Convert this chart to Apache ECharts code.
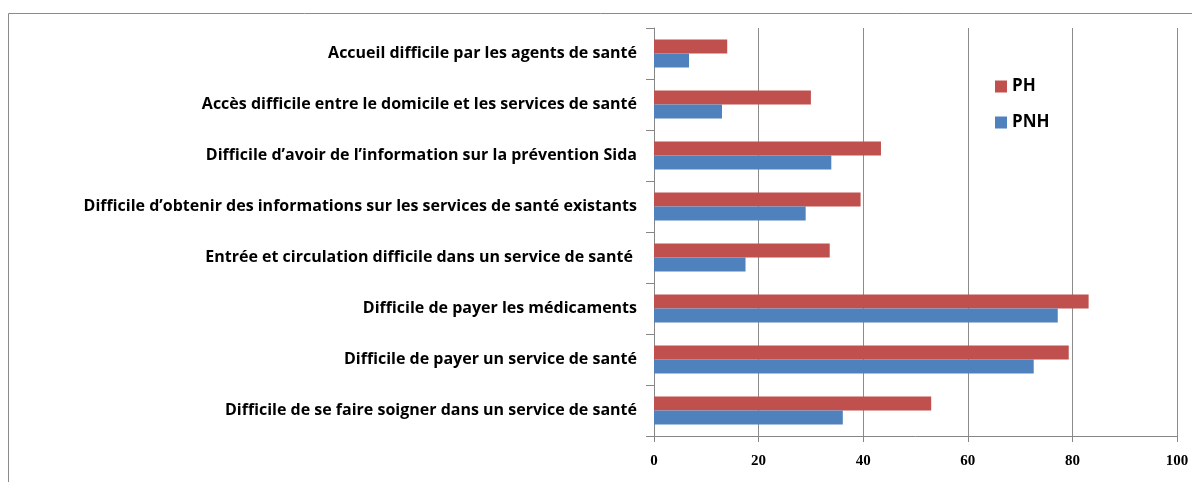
<!DOCTYPE html>
<html>
<head>
<meta charset="utf-8">
<script src="https://cdn.jsdelivr.net/npm/echarts@6/dist/echarts.min.js"></script>
<style>
html, body { margin: 0; padding: 0; background: #fff; }
#chart { width: 1192px; height: 482px; }
</style>
</head>
<body>
<div id="chart"></div>
<script>
const categories = [
	'Accueil difficile par les agents de santé',
	'Accès difficile entre le domicile et les services de santé',
	'Difficile d\u2019avoir de l\u2019information sur la prévention Sida',
	'Difficile d\u2019obtenir des informations sur les services de santé existants',
	'Entrée et circulation difficile dans un service de santé ',
	'Difficile de payer les médicaments',
	'Difficile de payer un service de santé',
	'Difficile de se faire soigner dans un service de santé'
];
const phValues = [14, 30, 43.4, 39.5, 33.6, 83.1, 79.3, 53];
const pnhValues = [6.7, 13, 33.9, 29, 17.5, 77.2, 72.6, 36.1];
const xTicks = [0, 20, 40, 60, 80, 100];

let chart = echarts.init(document.getElementById('chart'));

let option = {
	animation: false,
	textStyle: { fontFamily: 'Open Sans' },
	graphic: [{
		type: 'rect',
		shape: { x: 8.5, y: 13.5, width: 1300, height: 600 },
		style: { fill: 'none', stroke: '#8a8a8a', lineWidth: 1 },
		silent: true
	}],
	legend: {
		orient: 'vertical',
		left: 990,
		top: 73,
		itemWidth: 12,
		itemHeight: 12,
		itemGap: 19,
		icon: 'rect',
		textStyle: { fontSize: 17, fontWeight: 'bold', color: '#000', fontFamily: 'Open Sans' },
		data: ['PH', 'PNH']
	},
	grid: {
		left: 654,
		right: 15,
		top: 28,
		bottom: 46,
		containLabel: false
	},
	xAxis: {
		type: 'value',
		min: xTicks[0],
		max: xTicks[xTicks.length - 1],
		interval: 20,
		axisLine: { show: true, lineStyle: { color: '#868686' } },
		axisTick: { show: true, length: 6, lineStyle: { color: '#868686' } },
		splitLine: { show: true, lineStyle: { color: '#8c8c8c', width: 1 } },
		axisLabel: { color: '#000', fontSize: 15, fontWeight: 'bold', margin: 18, fontFamily: 'Liberation Serif' }
	},
	yAxis: {
		type: 'category',
		inverse: true,
		data: categories,
		axisLine: { show: true, lineStyle: { color: '#868686' } },
		axisTick: { show: true, length: 8, lineStyle: { color: '#868686' } },
		axisLabel: { color: '#000', fontSize: 16, fontWeight: 'bold', margin: 17, fontFamily: 'Open Sans' }
	},
	series: [{
		name: 'PH',
		type: 'bar',
		data: phValues,
		barGap: '0%',
		barCategoryGap: '45%',
		itemStyle: { color: '#C0504D' }
	}, {
		name: 'PNH',
		type: 'bar',
		data: pnhValues,
		itemStyle: { color: '#4F81BD' }
	}]
};
chart.setOption(option);
</script>
</body>
</html>
